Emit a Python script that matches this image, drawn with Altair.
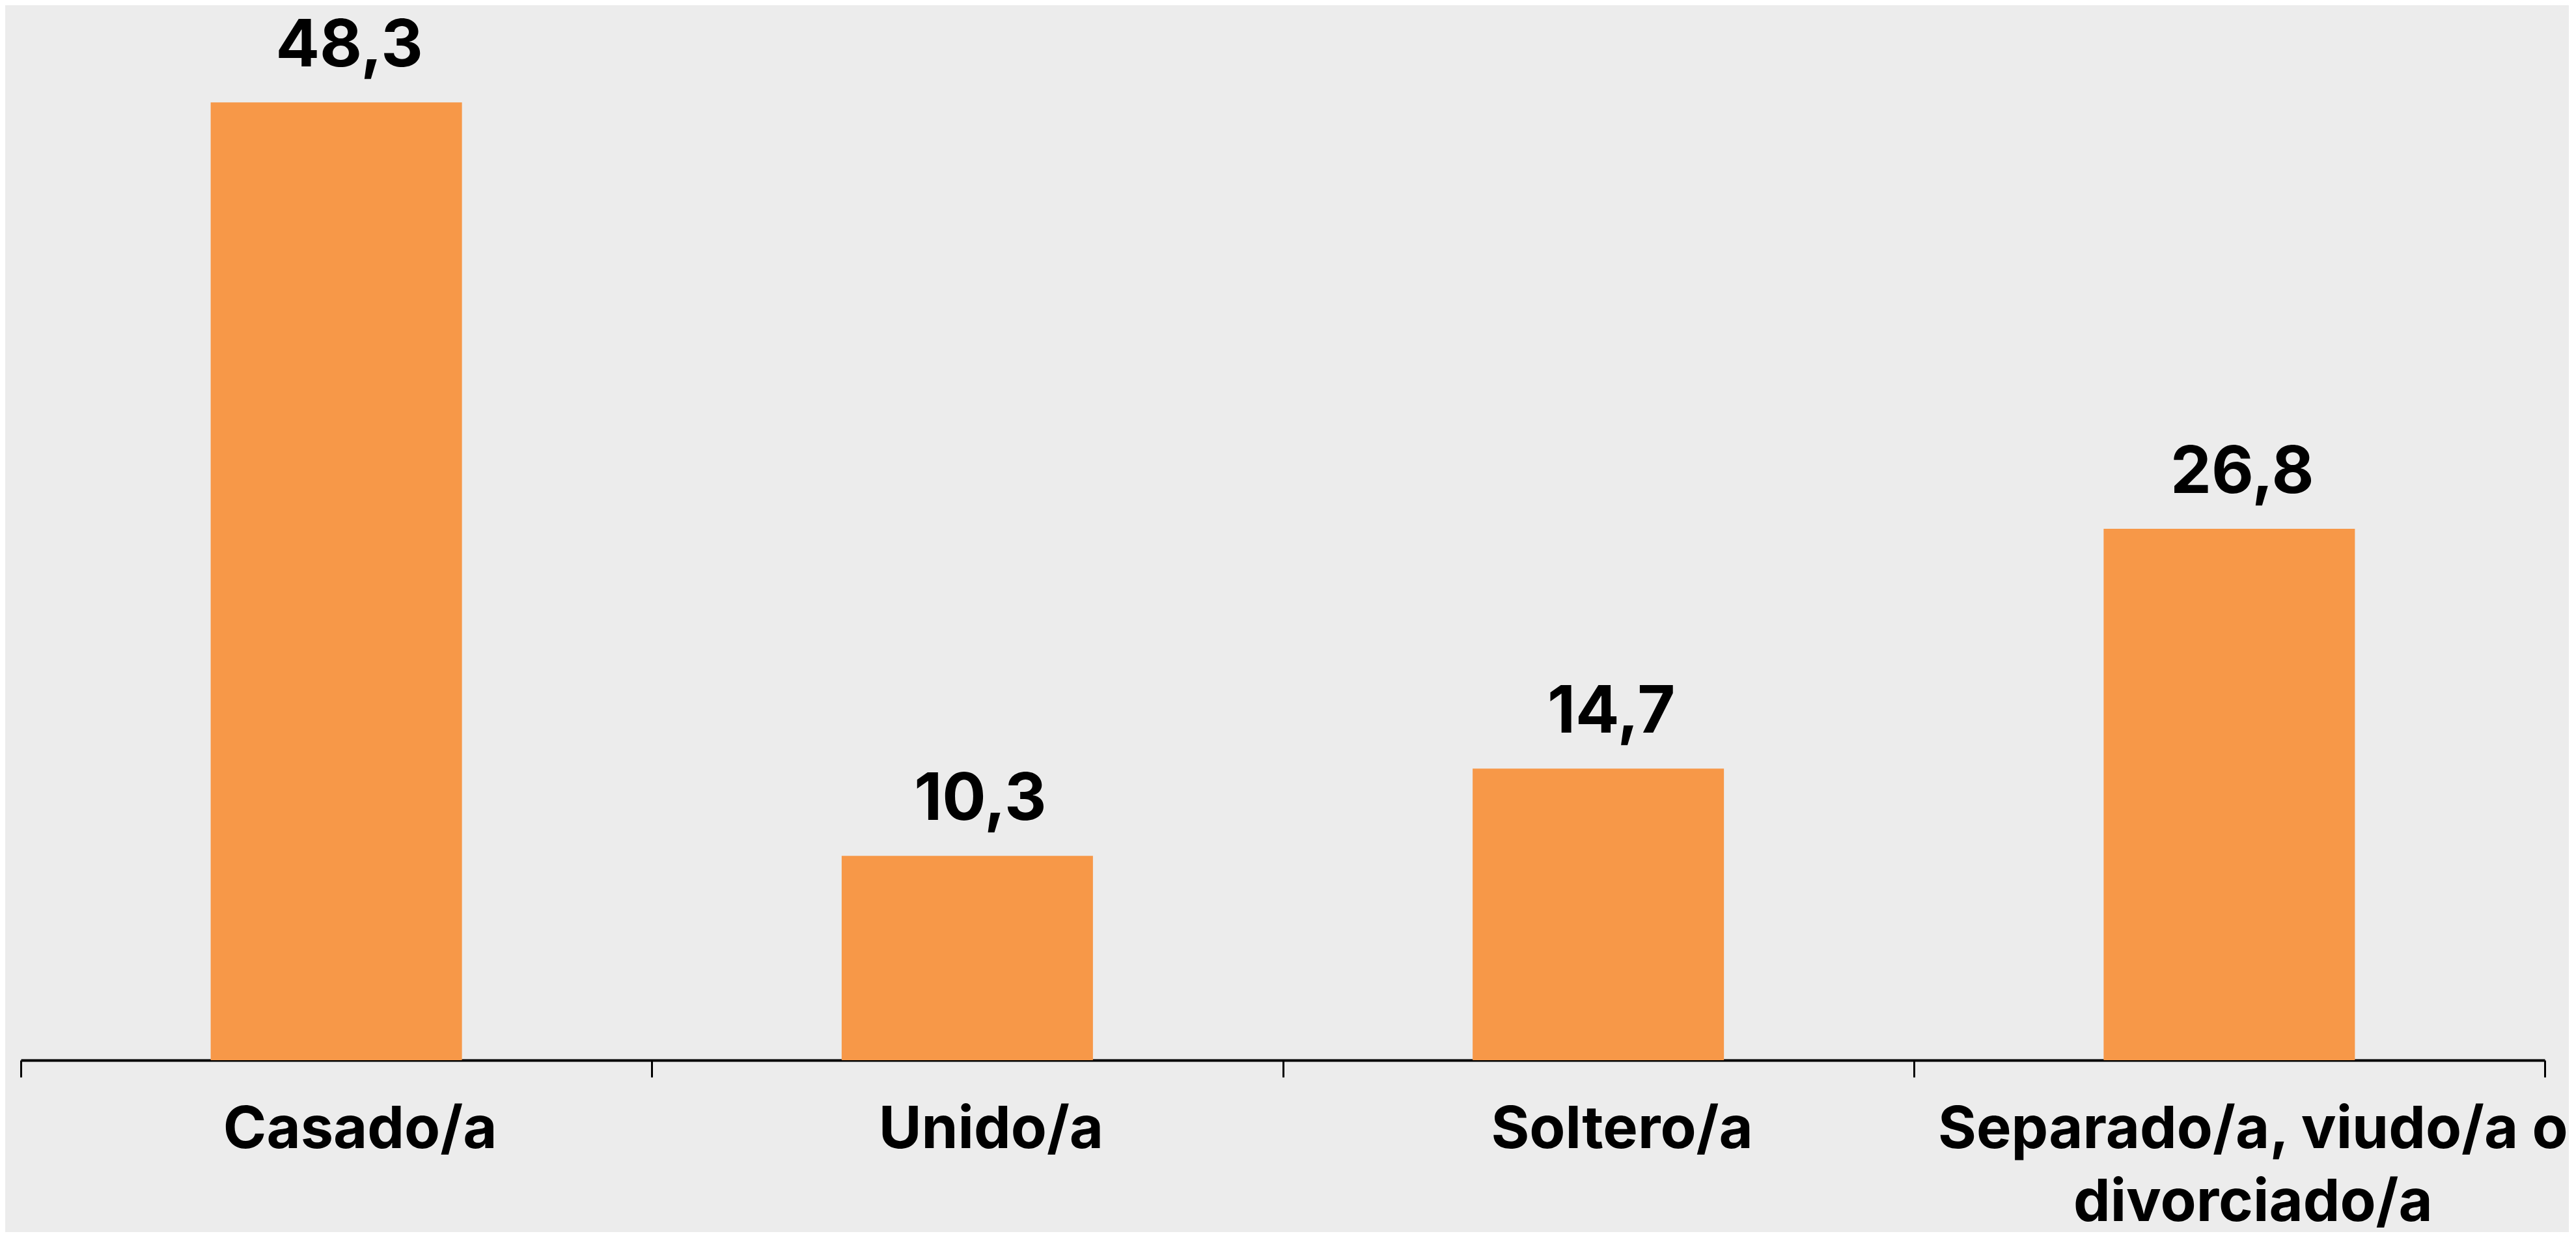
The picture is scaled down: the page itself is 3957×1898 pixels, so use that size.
import altair as alt
import pandas as pd

categorias = ["Casado/a", "Unido/a", "Soltero/a", "Separado/a, viudo/a o divorciado/a"]
valores = [48.3, 10.3, 14.7, 26.8]

df = pd.DataFrame({"cat": categorias, "v": valores})

FONT = "Inter"
BAR = "#F79848"
BG = "#ECECEC"

x = alt.X(
    "cat:N",
    sort=categorias,
    title=None,
    scale=alt.Scale(paddingInner=0, paddingOuter=0),
    axis=alt.Axis(
        labelAngle=0,
        tickBand="extent",
        domainColor="black",
        domainWidth=4,
        tickColor="black",
        tickWidth=3,
        tickSize=26,
        labelFont=FONT,
        labelFontWeight="bold",
        labelFontSize=90,
        labelColor="black",
        labelBaseline="alphabetic",
        labelPadding=108,
        labelLineHeight=112,
        labelOffset=36,
        labelLimit=2000,
        labelExpr="datum.label == 'Separado/a, viudo/a o divorciado/a' ? ['Separado/a, viudo/a o', 'divorciado/a'] : datum.label",
    ),
)
y = alt.Y("v:Q", title=None, axis=None, scale=alt.Scale(domain=[0, 53.2], nice=False, zero=True))

base = alt.Chart(df).encode(x=x, y=y)

bars = base.mark_bar(color=BAR, size=386)
text = base.transform_calculate(
    lab="replace(format(datum.v, '.1f'), '.', ',')"
).mark_text(
    font=FONT, fontWeight="bold", fontSize=100, color="black",
    baseline="alphabetic", dy=-55, dx=20
).encode(text="lab:N")

chart = (bars + text).properties(
    width=3877, height=1620, background=BG,
    padding={"left": 22, "top": 0, "right": 0, "bottom": 0},
).configure_view(stroke=None, fill=BG)

chart.save("out.html", embed_options={"renderer": "svg", "actions": False})
